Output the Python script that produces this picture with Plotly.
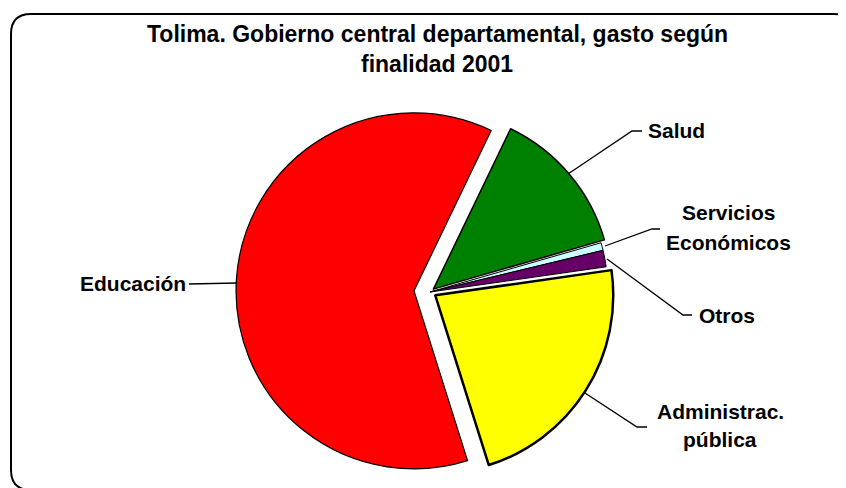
import plotly.graph_objects as go

# slice data (share of spending, %), clockwise from Salud
labels = ["Salud", "Servicios Económicos", "Otros", "Administrac. pública", "Educación"]
values = [13.4, 0.7, 1.5, 22.4, 62.0]
colors = ["#008000", "#CCFFFF", "#660066", "#FFFF00", "#FF0000"]
pulls = [0.025, 0.0, 0.0, 0.035, 0.09]

title_lines = ["Tolima. Gobierno central departamental, gasto según", "finalidad 2001"]

# page body has an 8px margin, so the figure fills the rest of the window
OFF = 8
W, H = 846 - OFF, 488 - OFF


def px(x, y):
    # window pixel position -> paper coords (margins are zero)
    return (x - OFF) / W, 1 - (y - OFF) / H


fig = go.Figure()

dx0, dy1 = px(236, 98)
dx1, dy0 = px(624, 486)
fig.add_trace(go.Pie(
    labels=labels,
    values=values,
    sort=False,
    direction='clockwise',
    rotation=25.7,
    pull=pulls,
    textinfo='none',
    hoverinfo='label+percent',
    marker=dict(colors=colors, line=dict(color='black', width=[1.5, 1, 1, 2.5, 1.2])),
    domain=dict(x=[dx0, dx1], y=[dy0, dy1]),
    showlegend=False,
))

font_lbl = dict(family='Liberation Sans, Arial', size=21, color='black')
font_ttl = dict(family='Liberation Sans, Arial', size=23, color='black')

annotations = []


def add_text(text, x, y, xanchor='center', font=font_lbl):
    ax, ay = px(x, y)
    annotations.append(dict(text='<b>%s</b>' % text, x=ax, y=ay, xref='paper', yref='paper',
                            xanchor=xanchor, yanchor='middle', showarrow=False, font=font))


add_text(title_lines[0], 437, 34, font=font_ttl)
add_text(title_lines[1], 437, 64, font=font_ttl)

add_text("Salud", 646, 131, 'left')
add_text("Servicios", 728, 213)
add_text("Económicos", 728, 243)
add_text("Otros", 697, 315, 'left')
add_text("Administrac.", 720, 411)
add_text("pública", 720, 439)
add_text("Educación", 188, 283, 'right')

# leader lines (pixel points)
leaders = [
    [(568, 174), (632, 131), (642, 131)],
    [(605, 246), (652, 229), (660, 229)],
    [(607, 259), (683, 315), (692, 315)],
    [(585, 393), (637, 427), (647, 427)],
    [(189, 284), (237, 283)],
]

shapes = []
for pts in leaders:
    p = [px(*q) for q in pts]
    path = 'M %f %f ' % p[0] + ' '.join('L %f %f' % q for q in p[1:])
    shapes.append(dict(type='path', path=path, xref='paper', yref='paper',
                       line=dict(color='black', width=1.3)))

# rounded outer frame (right and bottom edges run past the window)
x0, y0, x1, y1, r = 11, 14, 854, 490, 20
c = [px(x0 + r, y0), px(x1 - r, y0), px(x1, y0), px(x1, y0 + r), px(x1, y1 - r), px(x1, y1),
     px(x1 - r, y1), px(x0 + r, y1), px(x0, y1), px(x0, y1 - r), px(x0, y0 + r), px(x0, y0)]
frame = ('M %f %f L %f %f Q %f %f %f %f L %f %f Q %f %f %f %f L %f %f Q %f %f %f %f '
         'L %f %f Q %f %f %f %f Z') % (
    c[0] + c[1] + c[2] + c[3] + c[4] + c[5] + c[6] + c[7] + c[8] + c[9] + c[10] + c[11] + c[0])
shapes.append(dict(type='path', path=frame, xref='paper', yref='paper',
                   line=dict(color='black', width=2)))

fig.update_layout(
    width=W,
    height=H,
    margin=dict(l=0, r=0, t=0, b=0),
    paper_bgcolor='white',
    plot_bgcolor='white',
    annotations=annotations,
    shapes=shapes,
)

fig.write_html("out.html")
